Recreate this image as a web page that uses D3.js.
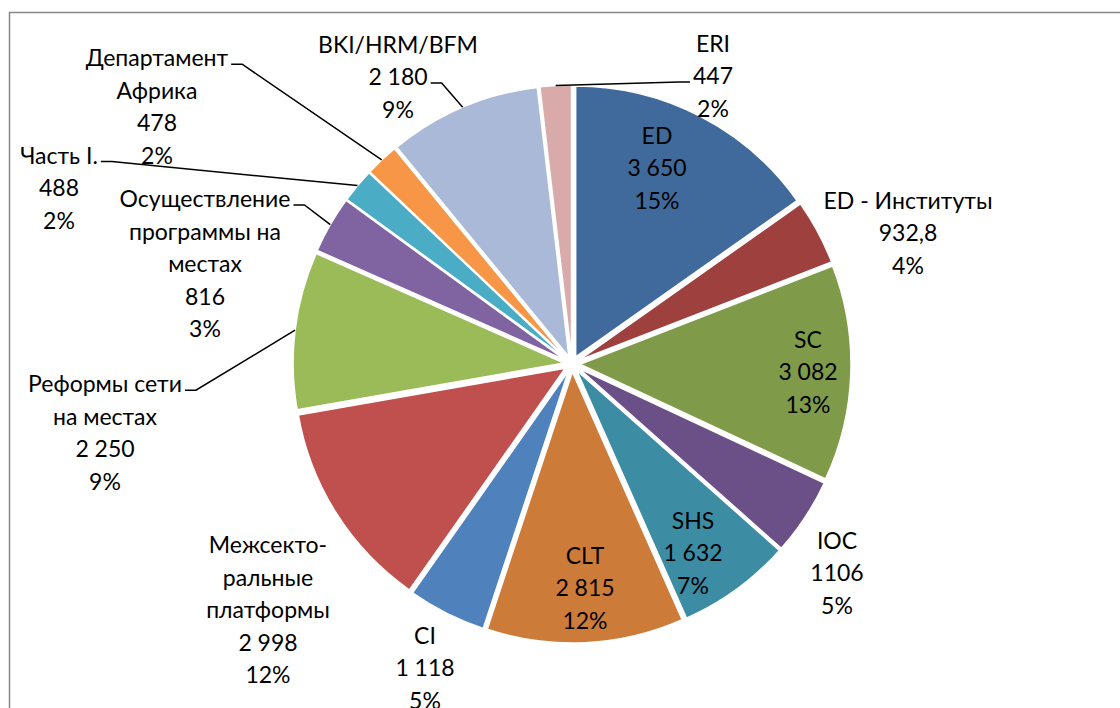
<!DOCTYPE html>
<html>
<head>
<meta charset="utf-8">
<script src="https://cdn.jsdelivr.net/npm/d3@7"></script>
<style>
  body { margin: 0; background: #fff; }
  svg text { font-family: Lato, "Open Sans", sans-serif; fill: #000; }
</style>
</head>
<body>
<div id="chart"></div>
<script>
// data
const categories = ["ED", "ED - Институты", "SC", "IOC", "SHS", "CLT", "CI",
    "Межсекто-|ральные|платформы", "Реформы сети|на местах",
    "Осуществление|программы на|местах", "Часть I.", "Департамент|Африка",
    "BKI/HRM/BFM", "ERI"];
const values = [3650, 932.8, 3082, 1106, 1632, 2815, 1118, 2998, 2250, 816, 488, 478, 2180, 447];
const valueLabels = ["3 650", "932,8", "3 082", "1106", "1 632", "2 815", "1 118",
    "2 998", "2 250", "816", "488", "478", "2 180", "447"];
const colors = ["#416A9C", "#9E413E", "#7F9B4A", "#6A5087", "#3C8DA4", "#CD7B38", "#4F81BD",
    "#C0504D", "#9BBB59", "#8064A2", "#4BACC6", "#F79646", "#AAB9D7", "#D9AAAA"];

// label placement (offset of label block centre from pie centre) and leader lines
const labelOffsets = [[85, -196], [336, -131], [236, 8], [265, 209], [121, 189], [13, 224],
    [-147, 304], [-304, 246], [-467, 69], [-367, -100], [-513, -176], [-415, -257],
    [-174, -287], [141, -288]];
const leaders = { 8: { line: 0, side: "right" }, 9: { line: 0, side: "right" },
    10: { line: 0, side: "right" }, 11: { line: 0, side: "right" },
    12: { line: 1, side: "right" }, 13: { line: 1, side: "left" } };

const width = 1120, height = 708;
const cx = 572, cy = 364, R = 271, explode = 8;
const fontSize = 23, lineH = 32.5;

const svg = d3.select("#chart").append("svg")
    .attr("width", width)
    .attr("height", height);

// chart frame (runs off the right and bottom of the picture)
svg.append("rect")
    .attr("x", 9.5).attr("y", 12.5)
    .attr("width", 1300).attr("height", 900)
    .attr("fill", "none")
    .attr("stroke", "#878787")
    .attr("stroke-width", 1.5);

const total = d3.sum(values);
const rows = categories.map((c, i) => ({ name: c, value: values[i], label: valueLabels[i], i }));

const pie = d3.pie().sort(null).value(d => d.value);
const arc = d3.arc().innerRadius(0).outerRadius(R);
const arcs = pie(rows);

const g = svg.append("g").attr("transform", `translate(${cx},${cy})`);

const mid = d => (d.startAngle + d.endAngle) / 2;

// slices, each pulled out a little
g.selectAll("path.slice")
    .data(arcs)
    .enter().append("path")
    .attr("class", "slice")
    .attr("d", arc)
    .attr("transform", d => `translate(${explode * Math.sin(mid(d))},${-explode * Math.cos(mid(d))})`)
    .attr("fill", d => colors[d.data.i])
    .attr("stroke", "#fff")
    .attr("stroke-width", 1.5);

// labels
arcs.forEach(d => {
    const i = d.data.i;
    const lines = d.data.name.split("|").concat([d.data.label, Math.round(d.data.value / total * 100) + "%"]);
    const [ox, oy] = labelOffsets[i];
    const top = oy - (lines.length - 1) * lineH / 2;
    const texts = [];
    lines.forEach((t, k) => {
        const el = g.append("text")
            .attr("x", ox)
            .attr("y", top + k * lineH)
            .attr("dy", "0.35em")
            .attr("text-anchor", "middle")
            .attr("font-size", fontSize)
            .text(t);
        texts.push(el);
    });

    const ld = leaders[i];
    if (ld) {
        const el = texts[ld.line];
        const w = el.node().getComputedTextLength();
        const ly = top + ld.line * lineH + 6;
        const sx = ld.side === "right" ? ox + w / 2 + 3 : ox - w / 2 - 3;
        const hx = ld.side === "right" ? sx + 11 : sx - 11;
        const a = mid(d);
        const px = (R + explode) * Math.sin(a);
        const py = -(R + explode) * Math.cos(a);
        g.append("path")
            .attr("d", d3.line()([[sx, ly], [hx, ly], [px, py]]))
            .attr("fill", "none")
            .attr("stroke", "#000")
            .attr("stroke-width", 1.5);
    }
});
</script>
</body>
</html>
